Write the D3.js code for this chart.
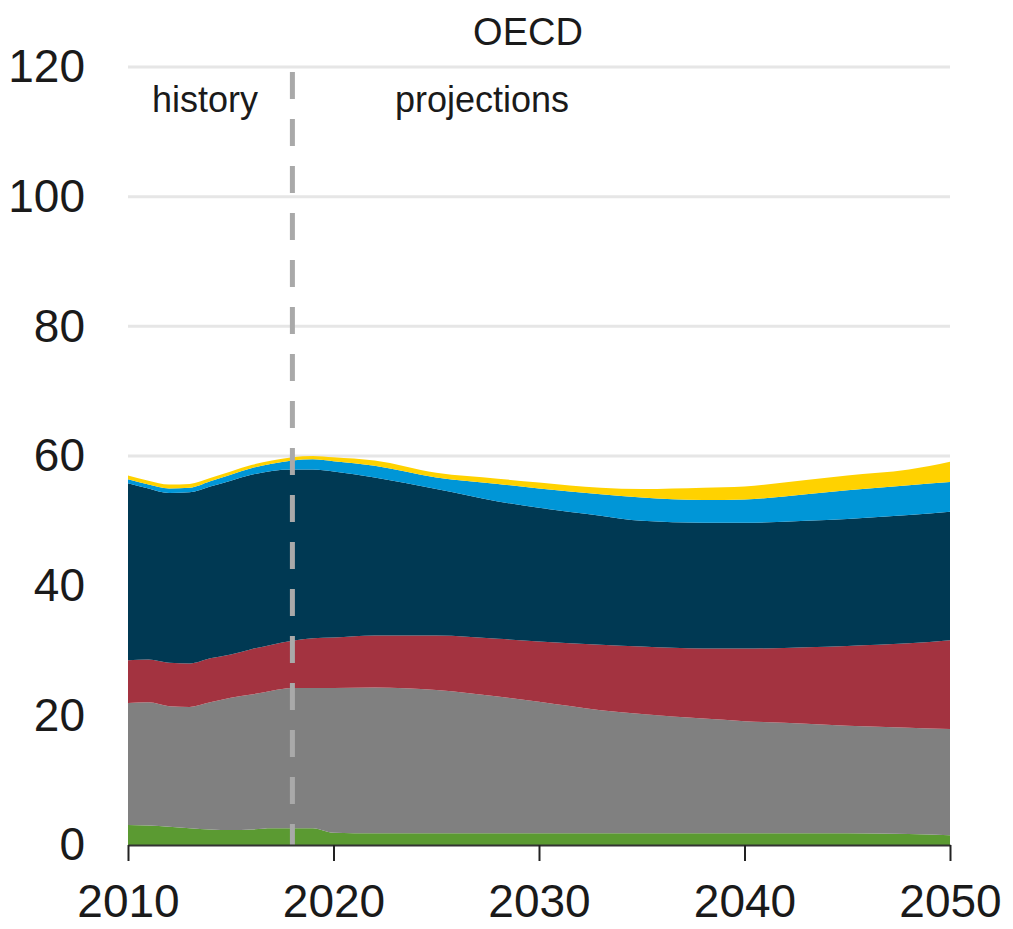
<!DOCTYPE html>
<html>
<head>
<meta charset="utf-8">
<script src="https://cdnjs.cloudflare.com/ajax/libs/d3/7.8.5/d3.min.js"></script>
<style>
  body { margin: 0; background: #fff; }
  text { font-family: "Liberation Sans", Arial, sans-serif; fill: #1a1a1a; }
</style>
</head>
<body>
<svg id="chart" width="1013" height="929"></svg>
<script>
'use strict';

// values (layer thickness, stacked bottom to top)
const years = [2010, 2011, 2012, 2013, 2014, 2015, 2016, 2017, 2018, 2019, 2020,
    2022, 2025, 2028, 2030, 2033, 2035, 2038, 2040, 2043, 2045, 2048, 2050]
const green  = [3.1, 3.0, 2.8, 2.6, 2.4, 2.3, 2.4, 2.6, 2.6, 2.6, 1.9,
    1.8, 1.8, 1.8, 1.8, 1.8, 1.8, 1.8, 1.8, 1.8, 1.8, 1.7, 1.5]
const gray   = [18.8, 19.0, 18.6, 18.7, 19.6, 20.4, 20.8, 21.2, 21.6, 21.6, 22.3,
    22.5, 22.1, 21.1, 20.3, 19.0, 18.4, 17.7, 17.3, 16.9, 16.6, 16.4, 16.4]
const red    = [6.6, 6.6, 6.7, 6.7, 6.8, 6.7, 7.0, 7.1, 7.3, 7.7, 7.8,
    8.0, 8.4, 8.9, 9.3, 10.1, 10.4, 10.8, 11.2, 11.8, 12.3, 13.0, 13.7]
const navy   = [27.3, 26.4, 26.2, 26.4, 26.5, 26.8, 26.9, 26.8, 26.4, 26.0, 25.6,
    24.4, 22.6, 21.2, 20.6, 19.9, 19.4, 19.4, 19.4, 19.5, 19.6, 19.8, 19.8]
const blue   = [0.6, 0.6, 0.7, 0.7, 0.8, 0.9, 1.0, 1.1, 1.4, 1.6, 1.6,
    1.8, 1.8, 2.7, 3.0, 3.3, 3.6, 3.5, 3.6, 4.1, 4.4, 4.6, 4.6]
const yellow = [0.6, 0.6, 0.6, 0.6, 0.5, 0.5, 0.5, 0.5, 0.5, 0.5, 0.6,
    0.8, 0.7, 0.8, 0.9, 1.0, 1.3, 1.9, 2.0, 2.2, 2.3, 2.4, 3.1]

const seriesKeys = ['green', 'gray', 'red', 'navy', 'blue', 'yellow']
const seriesValues = { green, gray, red, navy, blue, yellow }
const colors = {
    green: '#5b9a32', gray: '#808080', red: '#a33340',
    navy: '#003953', blue: '#0096d7', yellow: '#ffd200'
}
const xTicks = [2010, 2020, 2030, 2040, 2050]
const yTicks = [0, 20, 40, 60, 80, 100, 120]
const lastHistoryYear = 2018

let svg = d3.select('#chart')
let x = d3.scaleLinear().domain([2010, 2050]).range([128, 950])
let y = d3.scaleLinear().domain([0, 120]).range([845, 67])

let rows = years.map(function(yr, i) {
    let row = { year: yr }
    seriesKeys.forEach(function(k) { row[k] = seriesValues[k][i] })
    return row
})

// grid
svg.append('g')
    .selectAll('line')
    .data(yTicks.filter(function(d) { return d > 0 }))
    .enter().append('line')
    .attr('x1', x(2010)).attr('x2', x(2050))
    .attr('y1', function(d) { return y(d) })
    .attr('y2', function(d) { return y(d) })
    .attr('stroke', '#e6e6e6')
    .attr('stroke-width', 3)

// stacked areas
let stacked = d3.stack().keys(seriesKeys)(rows)
let area = d3.area()
    .x(function(d) { return x(d.data.year) })
    .y0(function(d) { return y(d[0]) })
    .y1(function(d) { return y(d[1]) })
    .curve(d3.curveMonotoneX)

svg.append('g')
    .selectAll('path')
    .data(stacked)
    .enter().append('path')
    .attr('d', area)
    .attr('fill', function(d) { return colors[d.key] })

// history / projections divider
svg.append('line')
    .attr('x1', x(lastHistoryYear)).attr('x2', x(lastHistoryYear))
    .attr('y1', 72).attr('y2', y(0))
    .attr('stroke', '#a9a9a9')
    .attr('stroke-width', 5)
    .attr('stroke-dasharray', '27 20')

// x axis
let xAxis = svg.append('g')
    .attr('transform', 'translate(0,' + y(0) + ')')
    .call(d3.axisBottom(x).tickValues(xTicks).tickFormat(d3.format('d'))
        .tickSize(16).tickPadding(23).tickSizeOuter(0))
xAxis.select('.domain').attr('stroke', '#333').attr('stroke-width', 2)
xAxis.selectAll('.tick line').attr('stroke', '#222').attr('stroke-width', 2)
xAxis.selectAll('text').attr('font-size', 46).attr('fill', '#1a1a1a')
    .attr('font-family', '"Liberation Sans", Arial, sans-serif')

// y axis labels
let yAxis = svg.append('g')
    .attr('transform', 'translate(' + x(2010) + ',0)')
    .call(d3.axisLeft(y).tickValues(yTicks).tickSize(0).tickPadding(43))
yAxis.select('.domain').remove()
yAxis.selectAll('text').attr('font-size', 46).attr('fill', '#1a1a1a')
    .attr('font-family', '"Liberation Sans", Arial, sans-serif')

// title and labels
svg.append('text')
    .attr('x', 528).attr('y', 45)
    .attr('text-anchor', 'middle')
    .attr('font-size', 38)
    .text('OECD')

svg.append('text')
    .attr('x', 205).attr('y', 112)
    .attr('text-anchor', 'middle')
    .attr('font-size', 36)
    .text('history')

svg.append('text')
    .attr('x', 482).attr('y', 112)
    .attr('text-anchor', 'middle')
    .attr('font-size', 36)
    .text('projections')
</script>
</body>
</html>
